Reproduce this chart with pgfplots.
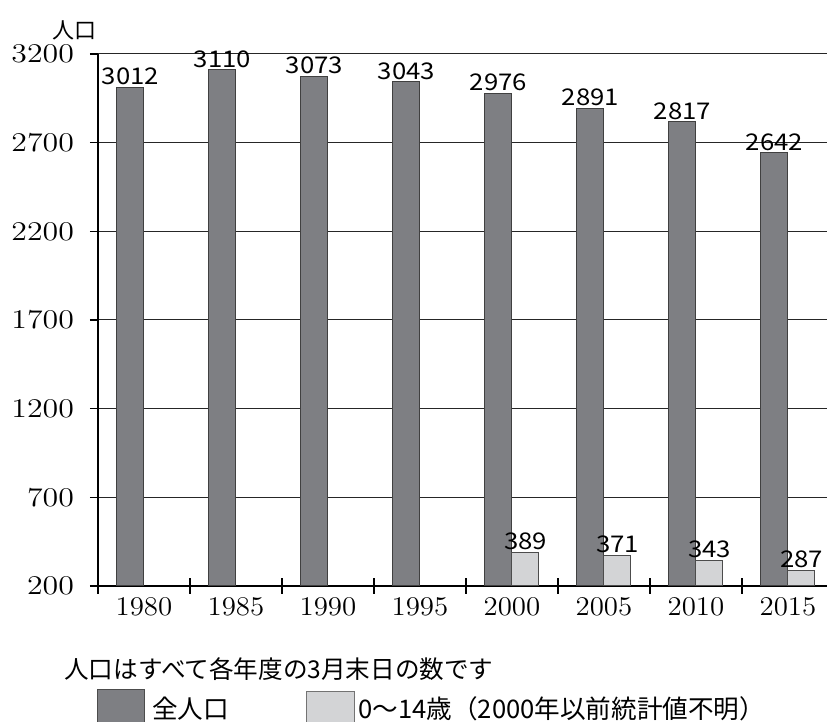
\documentclass[border=0pt]{standalone}
\usepackage{fontspec}
\setmainfont{Latin Modern Roman}
\newfontfamily\tickfont{Latin Modern Roman}[FakeStretch=1.18]
\newfontfamily\xtickfont{Latin Modern Roman}[FakeStretch=1.07]
\newfontfamily\jp{Noto Sans CJK JP}
\newfontfamily\jpnum{Noto Sans CJK JP}[FakeStretch=1.12]
\usepackage{pgfplots}
\pgfplotsset{compat=1.18}
\definecolor{darkbar}{RGB}{126,127,131}
\definecolor{lightbar}{RGB}{211,212,214}

\begin{document}
\begin{tikzpicture}
\begin{axis}[
  scale only axis,
  width=364.5pt, height=266pt,
  xmin=-0.5, xmax=7.424,
  ymin=200, ymax=3200,
  ytick={200,700,...,3200},
  xtick={0,...,7},
  xticklabels={1980,1985,1990,1995,2000,2005,2010,2015},
  minor xtick={-0.5,0.5,...,6.5},
  axis lines*=left,
  axis line style={black, line width=0.6pt},
  tick align=outside,
  major tick length=4pt,
  minor tick length=8pt,
  tick style={black, line width=0.6pt},
  major x tick style={draw=none},
  minor x tick style={yshift=4pt},
  ymajorgrids,
  grid style={black!85, line width=0.5pt},
  /pgf/number format/assume math mode=true,
  /pgf/number format/1000 sep={},
  yticklabel style={font=\tickfont\fontsize{13.5}{15}\selectfont, xshift=-4.5pt},
  xticklabel style={font=\xtickfont\fontsize{13.5}{15}\selectfont, yshift=2pt},
  ylabel={\jp\fontsize{11}{13}\selectfont 人口},
  ylabel style={rotate=-90, at={(axis description cs:-0.032,1.045)}, anchor=center},
  ybar, bar width=13.5pt,
  nodes near coords,
  every node near coord/.append style={font=\jpnum\fontsize{11.5}{13}\selectfont, inner sep=1pt, anchor=south},
]
% 全人口
\addplot[fill=darkbar, draw=black!75, line width=0.5pt, bar shift=-6.75pt]
  coordinates {(0,3012) (1,3110) (2,3073) (3,3043) (4,2976) (5,2891) (6,2817) (7,2642)};
% 0-14歳 (2000年以降のみ)
\addplot[fill=lightbar, draw=black!70, line width=0.5pt, bar shift=6.75pt]
  coordinates {(4,389) (5,371) (6,343) (7,287)};
\end{axis}

\node[anchor=west, inner sep=0, font=\jp\fontsize{12.3}{14}\selectfont] at (-17pt,-41.5pt) {人口はすべて各年度の3月末日の数です};
\filldraw[fill=darkbar, draw=black!70, line width=0.5pt] (0pt,-52pt) rectangle (23.5pt,-72pt);
\node[anchor=west, inner sep=0, font=\jp\fontsize{12.8}{14}\selectfont] at (27pt,-61.5pt) {全人口};
\filldraw[fill=lightbar, draw=black!55, line width=0.5pt] (104.5pt,-53pt) rectangle (128.5pt,-72pt);
\node[anchor=west, inner sep=0, font=\jp\fontsize{12.8}{14}\selectfont] at (130pt,-61.5pt) {0〜14歳（2000年以前統計値不明）};

\pgfresetboundingbox
\useasboundingbox (-49pt,-68pt) rectangle (364.5pt,293pt);
\end{tikzpicture}
\end{document}
